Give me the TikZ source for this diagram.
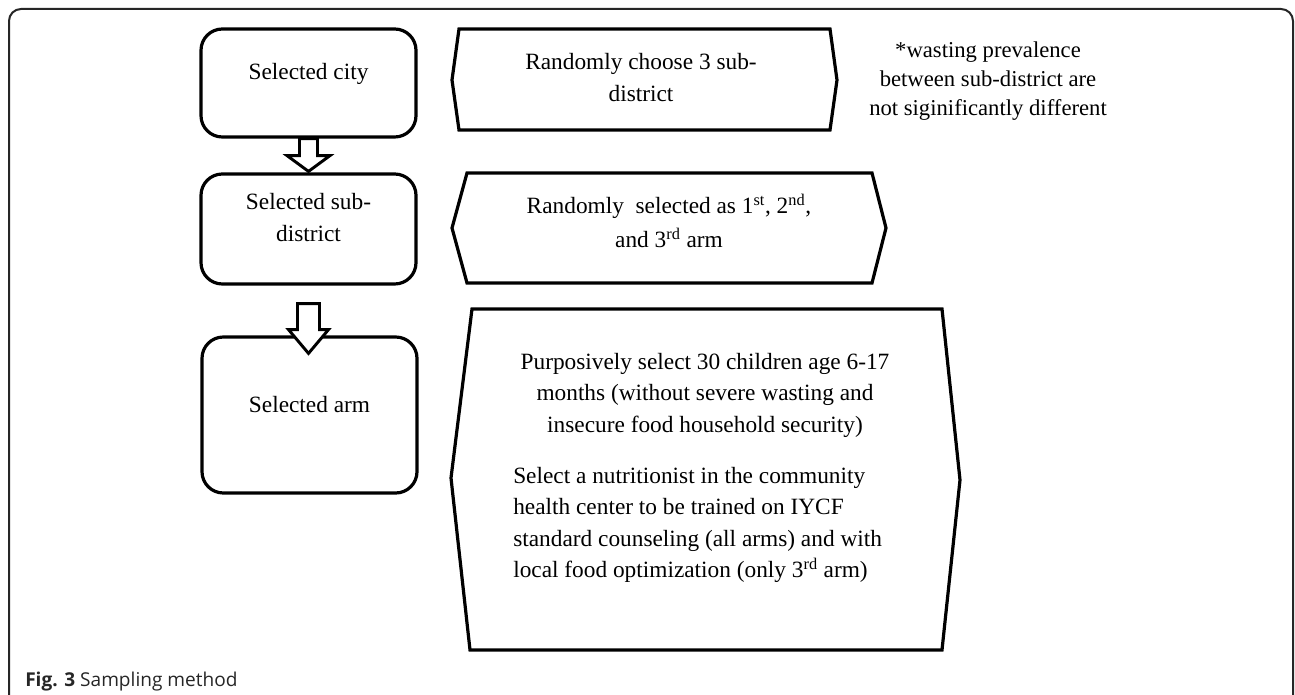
\documentclass[tikz,border=0pt]{standalone}
\usepackage{fontspec}
\setmainfont{Liberation Serif}
\newfontfamily\capfont{Open Sans}
\usetikzlibrary{calc}
\begin{document}
\begin{tikzpicture}[x=0.75pt,y=-0.75pt,
  lbox/.style={draw=black, line width=2.4pt, rounded corners=16pt, minimum width=161.25pt, inner sep=0pt},
  ltxt/.style={inner sep=0pt, align=center, font=\fontsize{17.5}{23.3}\selectfont},
  ptxt/.style={inner sep=0pt, align=left, font=\fontsize{17.5}{23.6}\selectfont},
  ntxt/.style={inner sep=0pt, align=center, font=\fontsize{17}{22}\selectfont},
  shp/.style={draw=black, line width=2.4pt, line join=miter},
  barrow/.style={draw=black, line width=2.2pt, fill=white, line join=miter},
  frame/.style={draw=black!85, line width=1.5pt, rounded corners=9pt}]
\useasboundingbox (0,0) rectangle (1295,695);
\draw[frame] (9,700) -- (9,9) -- (1293,9) -- (1293,700);

% left boxes
\node[lbox, minimum height=81pt] (b1) at (308.5,83) {};
\node[lbox, minimum height=82.5pt] (b2) at (308.5,229) {};
\node[lbox, minimum height=117pt] (b3) at (309.5,415) {};
\node[ltxt] (t1) at (308.5,74) {Selected city};
\node[ltxt] (t2) at (308.5,217.5) {Selected sub-\\district};
\node[ltxt] (t3) at (309.5,405) {Selected arm};

% block arrows
\draw[barrow] ($(b1.south)+(-9,0)$) -- ($(b1.south)+(9,0)$) -- ($(b1.south)+(9,17)$)
  -- ($(b1.south)+(21.5,17)$) -- ($(b2.north)+(0,-1)$) -- ($(b1.south)+(-21.5,17)$)
  -- ($(b1.south)+(-9,17)$) -- cycle;
\draw[barrow] ($(b2.south)+(-11,18)$) -- ($(b2.south)+(11,18)$) -- ($(b2.south)+(11,44)$)
  -- ($(b2.south)+(20,44)$) -- ($(b3.north)+(-1,18)$) -- ($(b2.south)+(-20,44)$)
  -- ($(b2.south)+(-11,44)$) -- cycle;

% right shapes
\draw[shp] (459,29) -- (830,29) -- (837,80) -- (830,130) -- (459,130) -- (452,80) -- cycle;
\draw[shp] (467,173) -- (872,173) -- (886,228) -- (872,283) -- (467,283) -- (452,228) -- cycle;
\draw[shp] (472,309) -- (942,309) -- (960,480) -- (942,650) -- (470,650) -- (451,478) -- cycle;

\node[ltxt] (ta) at (641,77.5) {Randomly choose 3 sub-\\district};
\node[ltxt] (tb) at (669,221) {Randomly\ \ selected as 1\textsuperscript{st}, 2\textsuperscript{nd},\\[2pt]and 3\textsuperscript{rd} arm};
\node[ltxt, font=\fontsize{17.5}{23.6}\selectfont] (tc1) at (705,395) {Purposively select 30 children age 6-17\\months (without severe wasting and\\insecure food household security)};
\node[ptxt, anchor=west] (tc2) at (513,525) {Select a nutritionist in the community\\health center to be trained on IYCF\\standard counseling (all arms) and with\\local food optimization (only 3\textsuperscript{rd} arm)};

\node[ntxt] (note) at (988,81) {*wasting prevalence\\between sub-district are\\not siginificantly different};

\node[anchor=west, inner sep=0pt, text=black!85, font=\capfont\fontsize{14.3}{17}\selectfont] (cap) at (25,682) {\textbf{Fig. 3} Sampling method};
\end{tikzpicture}
\end{document}
